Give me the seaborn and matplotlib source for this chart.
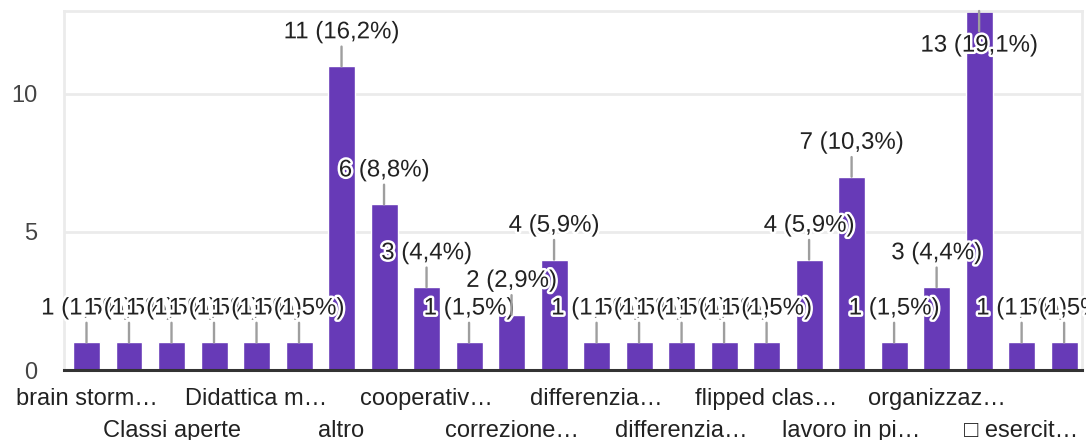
import numpy as np
import pandas as pd
import matplotlib
matplotlib.use("Agg")
import matplotlib.pyplot as plt
import matplotlib.patheffects as pe
import seaborn as sns

# answer counts, one per bar (left to right)
counts = [1, 1, 1, 1, 1, 1, 11, 6, 3, 1, 2, 4, 1, 1, 1, 1, 1, 4, 7, 1, 3, 13, 1, 1]
# only every second category label is shown, in two staggered rows
labels_row1 = ["brain storm…", "Didattica m…", "cooperativ…", "differenzia…",
               "flipped clas…", "organizzaz…"]
labels_row2 = ["Classi aperte", "altro", "correzione…", "differenzia…",
               "lavoro in pi…", "\u25a1 esercit…"]
y_ticks = [0, 5, 10]

purple = "#673ab7"

sns.set_theme(style="white")
plt.rcParams["font.family"] = ["Liberation Sans", "DejaVu Sans"]
plt.rcParams["font.size"] = 17

df = pd.DataFrame({"pos": np.arange(len(counts)), "count": counts})
total = sum(counts)

fig = plt.figure(figsize=(10.86, 4.40), dpi=100)
ax = fig.add_axes([0.0589, 0.159, 0.9374, 0.816])

sns.barplot(data=df, x="pos", y="count", color=purple, saturation=1,
            width=0.635, ax=ax, zorder=2)

ymax = 13
ax.set_ylim(0, ymax)
ax.set_xlim(-0.53, len(counts) - 0.58)

# value labels with leader lines, each drawn over the previous one
for i, v in enumerate(counts):
    pct = f"{v / total * 100:.1f}".replace(".", ",")
    txt = f"{v} ({pct}%)"
    if v >= ymax:
        xy, off, va = (i, ymax), -17, "top"
    else:
        xy, off, va = (i, v), 16.5, "bottom"
    ax.annotate(txt, xy=xy, xytext=(0, off), textcoords="offset points",
                ha="center", va=va, color="#222222", fontsize=17.3,
                zorder=5 + i, annotation_clip=False,
                path_effects=[pe.withStroke(linewidth=3.5, foreground="white")],
                arrowprops=dict(arrowstyle="-", color="#9e9e9e", lw=1.7,
                                shrinkA=0, shrinkB=0))

ax.set_yticks(y_ticks)
ax.yaxis.grid(True, color="#ebebeb", lw=2)
ax.set_axisbelow(True)
ax.tick_params(axis="y", length=0, pad=19, colors="#444444", labelsize=17)

ax.set_xticks(np.arange(0, len(counts), 4))
ax.set_xticklabels(labels_row1)
ax.set_xticks(np.arange(2, len(counts), 4), minor=True)
ax.set_xticklabels(labels_row2, minor=True)
ax.tick_params(axis="x", which="major", length=0, pad=13, colors="#222222",
               labelsize=17)
ax.tick_params(axis="x", which="minor", length=0, pad=36, colors="#222222",
               labelsize=17)

ax.set_xlabel("")
ax.set_ylabel("")

for side in ["left", "right", "top"]:
    ax.spines[side].set_color("#ebebeb")
    ax.spines[side].set_linewidth(2)
ax.spines["bottom"].set_color("#333333")
ax.spines["bottom"].set_linewidth(2.2)
ax.spines["bottom"].set_zorder(4)

fig.savefig("out.png", dpi=100)
